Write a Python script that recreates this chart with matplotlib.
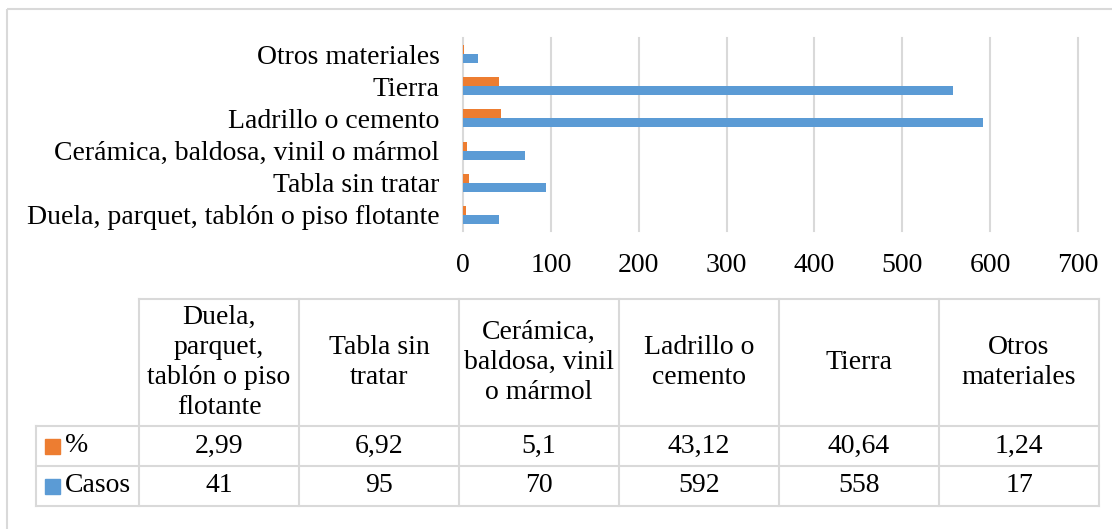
import matplotlib

matplotlib.use("Agg")
import matplotlib.pyplot as plt
import numpy as np

plt.rcParams["font.family"] = ["Liberation Serif", "DejaVu Serif"]

categories = [
    "Duela, parquet, tablón o piso flotante",
    "Tabla sin tratar",
    "Cerámica, baldosa, vinil o mármol",
    "Ladrillo o cemento",
    "Tierra",
    "Otros materiales",
]
header_labels = [
    "Duela,\nparquet,\ntablón o piso\nflotante",
    "Tabla sin\ntratar",
    "Cerámica,\nbaldosa, vinil\no mármol",
    "Ladrillo o\ncemento",
    "Tierra",
    "Otros\nmateriales",
]
casos = [41, 95, 70, 592, 558, 17]
pct = [2.99, 6.92, 5.1, 43.12, 40.64, 1.24]
series_names = ["%", "Casos"]
x_ticks = [0, 100, 200, 300, 400, 500, 600, 700]

ORANGE = "#ED7D31"
BLUE = "#5B9BD5"
GRID = "#d9d9d9"
FS = 20

W, H = 1112, 529
fig = plt.figure(figsize=(W / 100, H / 100), dpi=100)

# overlay axes in pixel coordinates for border and data table
bg = fig.add_axes([0, 0, 1, 1])
bg.set_xlim(0, W)
bg.set_ylim(H, 0)
bg.axis("off")
bg.add_patch(plt.Rectangle((7, 9), 1200, 700, fill=False, edgecolor=GRID, linewidth=1.5))

# bar chart
ax = fig.add_axes([463 / W, 1 - 231 / H, (1078 - 463) / W, (231 - 38) / H])
y = np.arange(len(categories))
h = 0.28
ax.barh(y + h / 2, pct, height=h, color=ORANGE, zorder=3)
ax.barh(y - h / 2, casos, height=h, color=BLUE, zorder=3)
ax.set_xlim(0, 700)
ax.set_ylim(-0.5, len(categories) - 0.5)
ax.set_xticks(x_ticks)
ax.set_yticks(y)
ax.set_yticklabels(categories)
ax.tick_params(length=0, labelsize=FS)
ax.tick_params(axis="x", pad=16)
ax.tick_params(axis="y", pad=17)
ax.grid(axis="x", color=GRID, linewidth=1.5, zorder=0)
for gl in ax.xaxis.get_gridlines():
    gl.set_clip_on(False)
for s in ax.spines.values():
    s.set_visible(False)

# data table
left, col0, col_w = 36, 139, 160
top, head_bot, row_h = 299, 426, 40
ncol = len(categories)
right = col0 + ncol * col_w
bottom = head_bot + 2 * row_h
lw = 1.5
bg.plot([col0, right], [top, top], color=GRID, lw=lw)
for r in range(3):
    yy = head_bot + r * row_h
    bg.plot([left, right], [yy, yy], color=GRID, lw=lw)
bg.plot([left, left], [head_bot, bottom], color=GRID, lw=lw)
for c in range(ncol + 1):
    xx = col0 + c * col_w
    bg.plot([xx, xx], [top, bottom], color=GRID, lw=lw)

for c, lab in enumerate(header_labels):
    bg.text(col0 + (c + 0.5) * col_w, (top + head_bot) / 2, lab,
            ha="center", va="center", fontsize=FS, linespacing=1.25)

rows = [[str(v).replace(".", ",") for v in pct], [str(v) for v in casos]]
for r, (name, color, vals) in enumerate(zip(series_names, [ORANGE, BLUE], rows)):
    yc = head_bot + (r + 0.5) * row_h
    bg.add_patch(plt.Rectangle((45, yc - 7.5), 15, 15, color=color))
    bg.text(65, yc, name, ha="left", va="center", fontsize=FS)
    for c, v in enumerate(vals):
        bg.text(col0 + (c + 0.5) * col_w, yc, v, ha="center", va="center", fontsize=FS)

fig.savefig("out.png", dpi=100)
